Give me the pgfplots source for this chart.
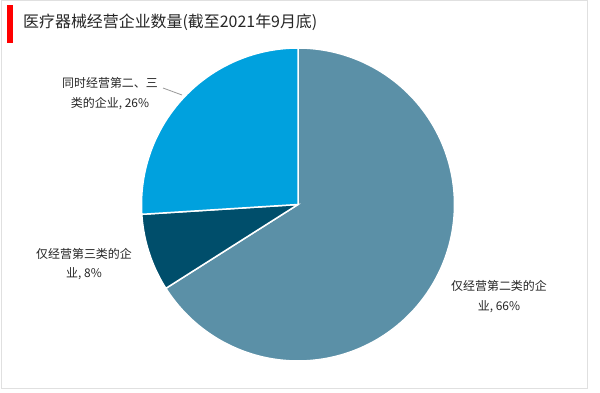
\documentclass[border=0pt]{standalone}
\usepackage{fontspec}
\setmainfont{Noto Sans CJK SC}
\usepackage{pgfplots}
\usepackage{pgfplotstable}
\pgfplotsset{compat=1.18}
\definecolor{cA}{RGB}{91,144,167}
\definecolor{cB}{RGB}{0,78,107}
\definecolor{cC}{RGB}{0,161,222}
\definecolor{txt}{RGB}{38,38,38}
\pgfplotstableread{
slice value
A 66
B 8
C 26
}\piedata
\begin{document}%
\begin{tikzpicture}
\pgfplotstablegetelem{0}{value}\of\piedata \let\vA\pgfplotsretval
\pgfplotstablegetelem{1}{value}\of\piedata \let\vB\pgfplotsretval
\pgfplotstablegetelem{2}{value}\of\piedata \let\vC\pgfplotsretval
\pgfmathsetmacro{\aA}{90-3.6*\vA}
\pgfmathsetmacro{\aB}{\aA-3.6*\vB}
\pgfmathsetmacro{\aC}{\aB-3.6*\vC}
\path[use as bounding box] (0,0) rectangle (600bp,393bp);
\fill[white] (0,0) rectangle (600bp,393bp);
\draw[black!12, line width=1bp] (1bp,4bp) rectangle (587bp,392bp);
\fill[red] (7bp,350bp) rectangle (13bp,388bp);
\node[anchor=west, text=txt, inner sep=0pt, font=\fontsize{16}{19}\selectfont] at (23bp,371bp) {医疗器械经营企业数量(截至2021年9月底)};
\begin{axis}[at={(298bp,188.5bp)}, anchor=origin, scale only axis, width=313bp, height=313bp,
  xmin=-1, xmax=1, ymin=-1, ymax=1, hide axis, clip=false]
\addplot[fill=cA, draw=white, line width=1.5pt, domain=\aA:90, samples=150, variable=\t] ({cos(\t)},{sin(\t)}) -- (0,0) -- cycle;
\addplot[fill=cB, draw=white, line width=1.5pt, domain=\aB:\aA, samples=30, variable=\t] ({cos(\t)},{sin(\t)}) -- (0,0) -- cycle;
\addplot[fill=cC, draw=white, line width=1.5pt, domain=\aC:\aB, samples=80, variable=\t] ({cos(\t)},{sin(\t)}) -- (0,0) -- cycle;
\end{axis}
\draw[black!40, line width=0.8bp] (163bp,305bp) -- (182bp,298bp);
\node[align=center, text=txt, font=\fontsize{12}{20}\selectfont] at (499bp,96bp) {仅经营第二类的企\\业, 66\%};
\node[align=center, text=txt, font=\fontsize{12}{19}\selectfont] at (84bp,129bp) {仅经营第三类的企\\业, 8\%};
\node[align=center, text=txt, font=\fontsize{12}{20}\selectfont] at (110bp,299bp) {同时经营第二、三\\类的企业, 26\%};
\end{tikzpicture}%
\end{document}
